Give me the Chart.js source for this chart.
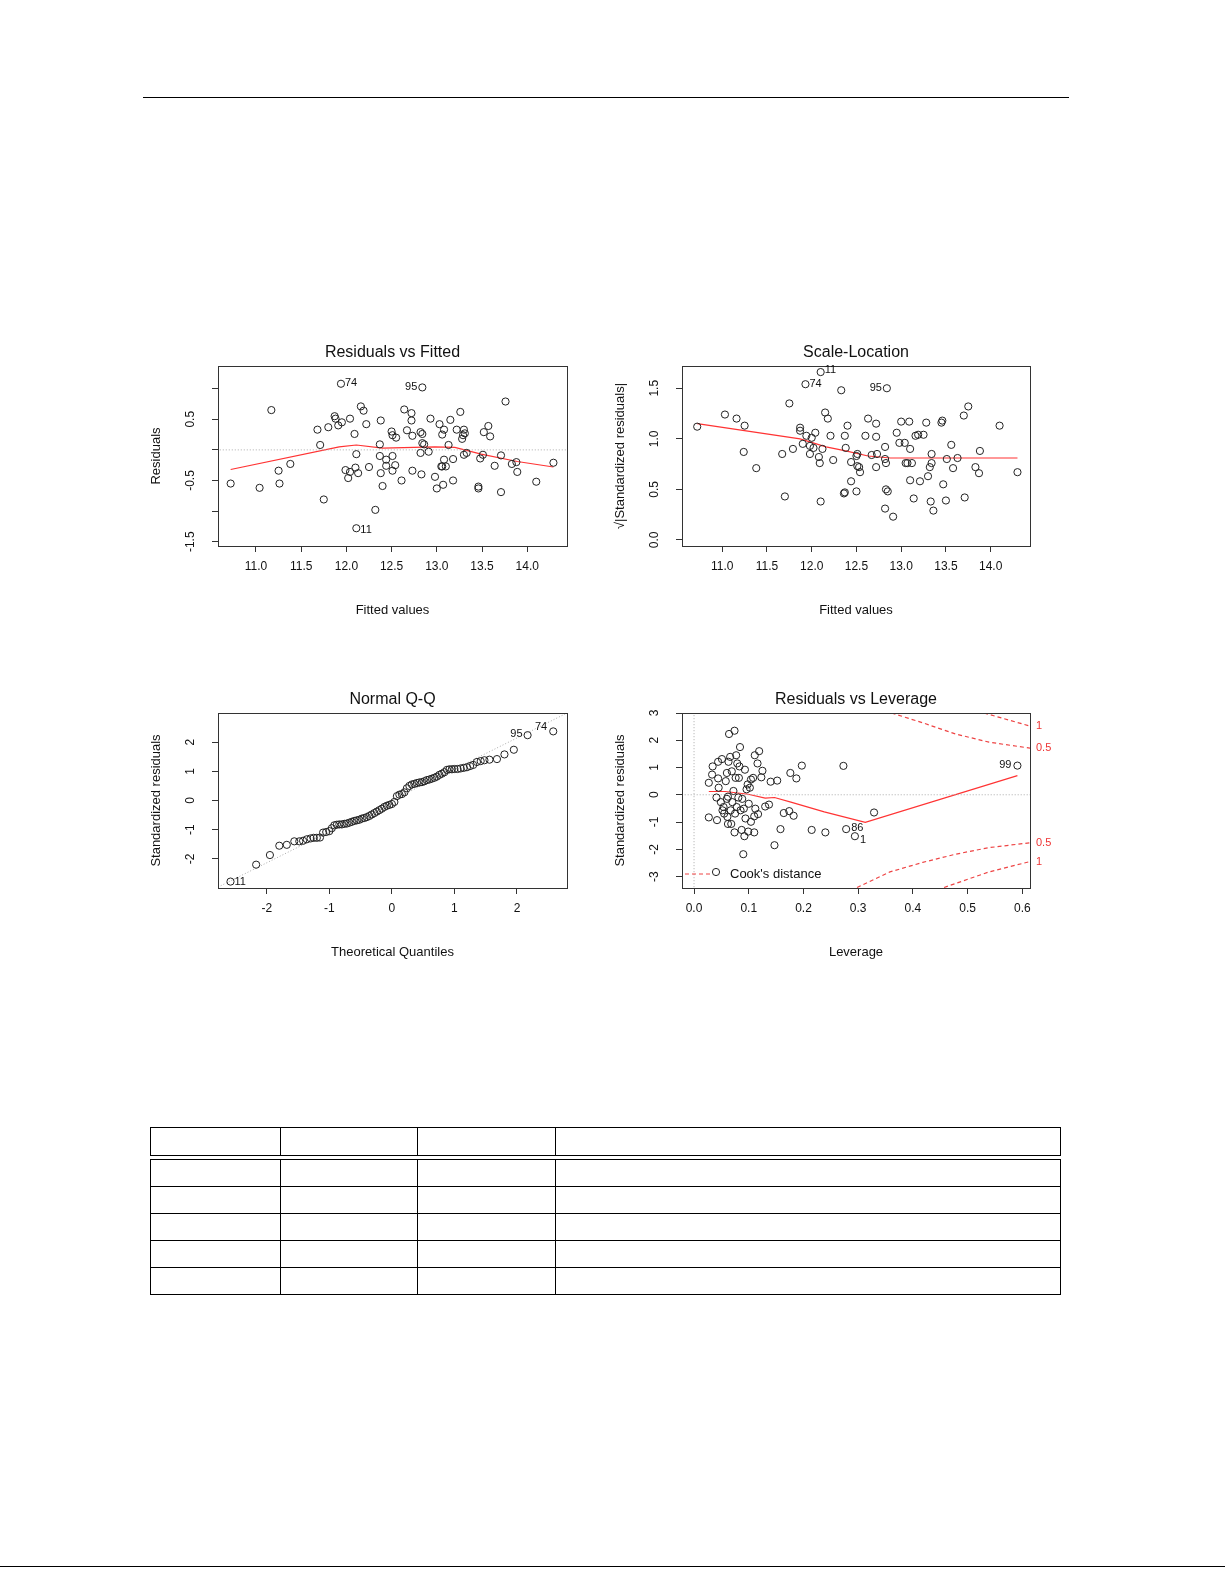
<!DOCTYPE html>
<html style="overflow:hidden"><head><meta charset="utf-8">
<script src="https://cdn.jsdelivr.net/npm/chart.js@4/dist/chart.umd.min.js"></script>
<style>
html,body{overflow:hidden;}
body{margin:0;width:1225px;height:1585px;position:relative;background:#fff;font-family:"Liberation Sans",Arial,sans-serif;}
.cv{position:absolute;}
.rule{position:absolute;background:#000;height:1px;}
table{position:absolute;border-collapse:collapse;left:150px;width:911px;}
td{border:1px solid #000;padding:0;}
</style></head><body>
<div class="rule" style="left:143px;top:97px;width:926px"></div>
<div class="rule" style="left:0;top:1566px;width:1225px"></div>
<div class="cv" style="left:140px;top:330px;width:440px;height:300px"><canvas id="c1"></canvas></div>
<div class="cv" style="left:600px;top:330px;width:470px;height:300px"><canvas id="c2"></canvas></div>
<div class="cv" style="left:140px;top:680px;width:440px;height:300px"><canvas id="c3"></canvas></div>
<div class="cv" style="left:600px;top:680px;width:470px;height:300px"><canvas id="c4"></canvas></div>
<table style="top:1127px"><tr style="height:28px"><td style="width:129px"></td><td style="width:136px"></td><td style="width:137px"></td><td></td></tr></table>
<table style="top:1159px">
<tr style="height:27px"><td style="width:129px"></td><td style="width:136px"></td><td style="width:137px"></td><td></td></tr>
<tr style="height:27px"><td></td><td></td><td></td><td></td></tr>
<tr style="height:27px"><td></td><td></td><td></td><td></td></tr>
<tr style="height:27px"><td></td><td></td><td></td><td></td></tr>
<tr style="height:27px"><td></td><td></td><td></td><td></td></tr>
</table>
<script>
// ---- Residuals vs Fitted ----
const rvfFitted=[10.72,11.04,11.17,11.25,11.26,11.38,11.68,11.71,11.75,11.80,11.87,11.88,11.91,11.95,11.94,11.99,12.02,12.04,12.04,12.09,12.10,12.11,12.11,12.13,12.16,12.19,12.22,12.25,12.32,12.37,12.37,12.38,12.38,12.40,12.44,12.44,12.50,12.51,12.51,12.51,12.54,12.55,12.61,12.64,12.67,12.72,12.72,12.73,12.73,12.82,12.82,12.83,12.84,12.84,12.84,12.86,12.91,12.93,12.98,13.00,13.03,13.05,13.06,13.07,13.06,13.08,13.08,13.10,13.13,13.15,13.18,13.18,13.22,13.26,13.28,13.29,13.30,13.30,13.31,13.33,13.46,13.46,13.48,13.51,13.52,13.57,13.59,13.64,13.71,13.71,13.76,13.83,13.88,13.89,14.10,14.29];
const rvfResid=[-0.55,-0.62,0.65,-0.34,-0.55,-0.23,0.33,0.08,-0.81,0.37,0.55,0.51,0.40,0.45,1.08,-0.33,-0.46,-0.36,0.51,0.26,-0.29,-0.07,-1.28,-0.38,0.71,0.64,0.42,-0.28,-0.98,0.09,-0.10,0.48,-0.38,-0.59,-0.26,-0.16,0.30,-0.10,-0.34,0.24,-0.25,0.20,-0.50,0.66,0.32,0.60,0.48,0.23,-0.34,0.29,-0.05,-0.40,0.26,1.02,0.11,0.09,-0.03,0.51,-0.44,-0.63,0.42,-0.27,-0.27,-0.57,0.25,0.33,-0.16,-0.27,0.08,0.49,-0.50,-0.15,0.33,0.62,0.18,0.24,-0.08,0.33,0.27,-0.05,-0.60,-0.63,-0.14,-0.08,0.29,0.39,0.22,-0.26,-0.09,-0.69,0.79,-0.23,-0.20,-0.36,-0.52,-0.21];
const rvfSmoothX=[10.72,11.92,12.11,12.40,12.98,13.20,13.49,13.89,14.29];
const rvfSmoothY=[-0.32,0.05,0.08,0.03,0.05,0.04,-0.07,-0.19,-0.28];
const rvfTicksY=[-1.5,-1.0,-0.5,0,0.5,1.0];
const rvfTickLabelsY=["-1.5","","-0.5","","0.5",""];
const fitTicksX=[11.0,11.5,12.0,12.5,13.0,13.5,14.0];
// ---- Scale-Location ----
const slFitted=[10.72,11.03,11.16,11.25,11.24,11.38,11.67,11.70,11.75,11.79,11.87,11.87,11.90,11.93,11.94,11.98,11.98,12.00,12.04,12.02,12.08,12.09,12.10,12.10,12.12,12.15,12.18,12.21,12.24,12.33,12.36,12.37,12.37,12.38,12.40,12.44,12.44,12.50,12.51,12.50,12.51,12.53,12.54,12.60,12.63,12.67,12.72,12.72,12.72,12.73,12.82,12.82,12.82,12.83,12.83,12.85,12.84,12.91,12.95,12.98,13.00,13.04,13.05,13.07,13.09,13.10,13.10,13.12,13.14,13.16,13.19,13.21,13.25,13.28,13.30,13.32,13.33,13.34,13.34,13.36,13.45,13.46,13.47,13.50,13.51,13.56,13.58,13.63,13.70,13.71,13.75,13.83,13.87,13.88,14.10,14.30];
const slSqrt=[1.12,1.24,1.20,1.13,0.87,0.71,0.85,0.43,1.35,0.90,1.11,1.08,0.95,1.54,1.03,0.93,0.85,1.01,1.06,0.91,0.82,0.76,0.38,1.66,0.90,1.26,1.20,1.03,0.79,1.48,0.46,0.47,1.03,0.91,1.13,0.77,0.58,0.83,0.85,0.48,0.73,0.72,0.67,1.03,1.20,0.84,1.15,1.02,0.72,0.85,0.92,0.80,0.31,0.76,0.50,0.48,1.50,0.23,1.06,0.96,1.17,0.96,0.76,0.76,1.17,0.90,0.59,0.76,0.41,1.03,1.04,0.58,1.04,1.16,0.63,0.72,0.38,0.85,0.76,0.29,1.16,1.18,0.55,0.39,0.80,0.94,0.71,0.81,1.23,0.42,1.32,0.72,0.66,0.88,1.13,0.67];
const slSmoothX=[10.72,11.87,12.16,12.38,12.63,12.88,13.25,14.30];
const slSmoothY=[1.15,1.00,0.92,0.88,0.83,0.81,0.81,0.81];
const slTicksY=[0.0,0.5,1.0,1.5];
const slTickLabelsY=["0.0","0.5","1.0","1.5"];
// ---- Normal Q-Q ----
const qqTheo=[-2.58,-2.17,-1.95,-1.80,-1.68,-1.56,-1.48,-1.42,-1.36,-1.30,-1.25,-1.20,-1.15,-1.10,-1.05,-1.00,-0.96,-0.92,-0.88,-0.84,-0.80,-0.76,-0.72,-0.68,-0.64,-0.60,-0.56,-0.52,-0.48,-0.44,-0.40,-0.36,-0.32,-0.28,-0.24,-0.20,-0.16,-0.12,-0.08,-0.04,0.00,0.04,0.08,0.12,0.16,0.20,0.24,0.28,0.32,0.36,0.40,0.44,0.48,0.52,0.56,0.60,0.64,0.68,0.72,0.76,0.80,0.84,0.88,0.92,0.96,1.00,1.05,1.10,1.15,1.20,1.25,1.30,1.36,1.42,1.48,1.56,1.68,1.80,1.95,2.17,2.58];
const qqStd=[-2.78,-2.20,-1.87,-1.55,-1.52,-1.40,-1.40,-1.38,-1.33,-1.30,-1.28,-1.28,-1.27,-1.10,-1.08,-1.05,-0.95,-0.85,-0.83,-0.82,-0.82,-0.80,-0.79,-0.76,-0.73,-0.70,-0.68,-0.66,-0.62,-0.60,-0.57,-0.53,-0.48,-0.43,-0.38,-0.33,-0.28,-0.22,-0.18,-0.15,-0.12,-0.05,0.15,0.20,0.22,0.28,0.42,0.50,0.55,0.57,0.60,0.62,0.63,0.66,0.70,0.72,0.75,0.78,0.82,0.88,0.92,0.97,1.05,1.07,1.07,1.08,1.08,1.10,1.12,1.14,1.18,1.22,1.32,1.35,1.38,1.40,1.42,1.58,1.74,2.24,2.37];
const qqLineX=[-2.78,2.80];
const qqLineY=[-2.97,3.0];
const qqTicksX=[-2,-1,0,1,2];
const qqTicksY=[-2,-1,0,1,2];
const qqTickLabelsY=["-2","-1","0","1","2"];
// ---- Residuals vs Leverage ----
const rlLev=[0.027,0.027,0.033,0.034,0.041,0.042,0.044,0.045,0.044,0.049,0.051,0.052,0.054,0.055,0.058,0.060,0.060,0.061,0.062,0.062,0.063,0.064,0.066,0.067,0.068,0.069,0.070,0.072,0.074,0.074,0.075,0.076,0.077,0.078,0.079,0.081,0.082,0.083,0.084,0.085,0.087,0.088,0.090,0.091,0.092,0.093,0.094,0.096,0.098,0.099,0.100,0.102,0.104,0.104,0.108,0.110,0.110,0.111,0.112,0.116,0.117,0.119,0.123,0.125,0.130,0.137,0.140,0.147,0.152,0.158,0.164,0.174,0.176,0.182,0.187,0.197,0.215,0.240,0.273,0.278,0.294,0.329,0.591];
const rlStd=[-0.83,0.44,0.74,1.04,-0.10,-0.93,1.21,0.26,0.60,-0.27,1.31,-0.57,-0.45,-0.69,0.50,-0.15,0.80,-0.81,-1.07,-0.07,1.21,2.23,1.39,-0.57,-1.07,0.86,-0.27,0.14,2.35,-1.38,-0.69,0.62,1.45,-0.45,1.15,-0.10,0.62,1.04,1.75,-0.57,-1.29,-0.15,-2.18,-0.51,-1.52,0.92,-0.87,0.20,0.38,-1.35,-0.33,0.26,0.56,-0.99,0.62,-0.79,-1.38,1.45,-0.51,1.15,-0.71,1.60,0.64,0.88,-0.43,-0.36,0.48,-1.85,0.52,-1.26,-0.67,-0.60,0.80,-0.77,0.60,1.07,-1.29,-1.38,1.06,-1.26,-1.52,-0.65,1.07];
const rlSmoothX=[0.027,0.057,0.099,0.130,0.147,0.177,0.238,0.313,0.591];
const rlSmoothY=[0.12,0.12,0.02,-0.12,-0.10,-0.27,-0.63,-1.01,0.70];
const cookHalfX=[0.361,0.418,0.478,0.539,0.614];
const cookHalfUp=[3.0,2.64,2.23,1.93,1.71];
const cookHalfLowX=[0.298,0.358,0.418,0.478,0.539,0.614];
const cookHalfLow=[-3.4,-2.83,-2.48,-2.18,-1.94,-1.76];
const cookOneX=[0.530,0.614];
const cookOneUp=[3.0,2.52];
const cookOneLowX=[0.457,0.539,0.614];
const cookOneLow=[-3.4,-2.83,-2.45];
const rlTicksX=[0.0,0.1,0.2,0.3,0.4,0.5,0.6];
const rlTicksY=[-3,-2,-1,0,1,2,3];
const rlTickLabelsY=["-3","-2","-1","0","1","2","3"];

const FONT='"Liberation Sans", Arial, sans-serif';
const xy=(xs,ys)=>xs.map((x,i)=>({x,y:ys[i]}));
const pts=(xs,ys)=>({type:'scatter',data:xy(xs,ys),pointRadius:3.6,pointHoverRadius:3.6,borderColor:'#222',backgroundColor:'rgba(0,0,0,0)',borderWidth:1,showLine:false});
const line=(xs,ys,color,dash,w)=>({type:'line',data:xy(xs,ys),borderColor:color,borderWidth:w||1.2,borderDash:dash||[],pointRadius:0,fill:false,tension:0});

const rPlugin={id:'rstyle',afterDraw(chart,args,o){
  const c=chart.ctx,a=chart.chartArea,xs=chart.scales.x,ys=chart.scales.y;
  c.save();
  c.strokeStyle='#333';c.lineWidth=1;c.strokeRect(a.left+0.5,a.top+0.5,a.right-a.left,a.bottom-a.top);
  c.fillStyle='#111';
  c.font='16px '+FONT;c.textAlign='center';c.textBaseline='alphabetic';
  c.fillText(o.title,(a.left+a.right)/2,a.top-9);
  c.font='13px '+FONT;
  c.fillText(o.xTitle,(a.left+a.right)/2,a.bottom+68);
  c.save();c.translate(a.left-62,(a.top+a.bottom)/2);c.rotate(-Math.PI/2);c.textBaseline='middle';c.fillText(o.yTitle,0,0);c.restore();
  c.font='12px '+FONT;
  o.yTicks.forEach((v,i)=>{const t=o.yLabels[i];if(!t)return;const py=ys.getPixelForValue(v);
    c.save();c.translate(a.left-27,py);c.rotate(-Math.PI/2);c.textAlign='center';c.textBaseline='middle';c.fillText(t,0,0);c.restore();});
  c.font='11px '+FONT;c.textBaseline='middle';
  (o.pointLabels||[]).forEach(p=>{const d=chart.data.datasets[p.ds].data[p.i];
    const px=xs.getPixelForValue(d.x),py=ys.getPixelForValue(d.y);
    c.textAlign=p.dx<0?'right':'left';c.fillText(p.text,px+p.dx,py+(p.dy||0));});
  if(o.cook){
    c.fillStyle='#e33';c.textAlign='left';c.font='11px '+FONT;
    o.cook.forEach(k=>{c.fillText(k.t,a.right+6,ys.getPixelForValue(k.y));});
    const ly=a.bottom-14,lx=a.left+3;
    c.strokeStyle='#e44';c.setLineDash([4,3]);c.beginPath();c.moveTo(lx,ly);c.lineTo(lx+28,ly);c.stroke();c.setLineDash([]);
    c.strokeStyle='#222';c.beginPath();c.arc(lx+31,ly-2,3.6,0,Math.PI*2);c.stroke();
    c.fillStyle='#111';c.font='13px '+FONT;c.fillText("Cook's distance",lx+45,ly);
  }
  c.restore();}};

function make(id,datasets,xr,yr,xt,yt,opts,yW,pad){
  return new Chart(document.getElementById(id),{data:{datasets},plugins:[rPlugin],
   options:{responsive:true,maintainAspectRatio:false,animation:false,events:[],
    layout:{padding:pad},
    plugins:{legend:{display:false},tooltip:{enabled:false},rstyle:opts},
    scales:{
     x:{type:'linear',min:xr[0],max:xr[1],afterBuildTicks:s=>{s.ticks=xt.map(v=>({value:v}));},afterFit:s=>{s.height=42;},
        grid:{drawOnChartArea:false,drawTicks:true,tickLength:6,color:'#333'},border:{display:false},
        ticks:{color:'#111',font:{family:FONT,size:12},padding:7,maxRotation:0,autoSkip:false,callback:v=>opts.xFmt(v)}},
     y:{type:'linear',min:yr[0],max:yr[1],afterBuildTicks:s=>{s.ticks=yt.map(v=>({value:v}));},afterFit:s=>{s.width=yW;},
        grid:{drawOnChartArea:false,drawTicks:true,tickLength:6,color:'#333'},border:{display:false},
        ticks:{color:'rgba(0,0,0,0)',font:{size:1}}}}}});
}
const f1=v=>v.toFixed(1), f0=v=>String(v);
make('c1',[pts(rvfFitted,rvfResid),line([10.5,14.5],[0,0],'#aaa',[1,2],1),line(rvfSmoothX,rvfSmoothY,'#f33')],
 [10.58,14.44],[-1.57,1.37],fitTicksX,rvfTicksY,
 {title:'Residuals vs Fitted',xTitle:'Fitted values',yTitle:'Residuals',yTicks:rvfTicksY,yLabels:rvfTickLabelsY,xFmt:f1,
  pointLabels:[{ds:0,i:14,text:'74',dx:4,dy:-1},{ds:0,i:53,text:'95',dx:-5},{ds:0,i:22,text:'11',dx:4,dy:2}]},78,{top:36,right:13,bottom:42,left:0});
make('c2',[pts(slFitted,slSqrt),line(slSmoothX,slSmoothY,'#f33')],
 [10.55,14.44],[-0.06,1.72],fitTicksX,slTicksY,
 {title:'Scale-Location',xTitle:'Fitted values',yTitle:'\u221a|Standardized residuals|',yTicks:slTicksY,yLabels:slTickLabelsY,xFmt:f1,
  pointLabels:[{ds:0,i:23,text:'11',dx:4,dy:-2},{ds:0,i:13,text:'74',dx:4},{ds:0,i:56,text:'95',dx:-5}]},82,{top:36,right:40,bottom:42,left:0});
make('c3',[pts(qqTheo,qqStd),line(qqLineX,qqLineY,'#aaa',[1,2],1)],
 [-2.78,2.8],[-3.0,3.0],qqTicksX,qqTicksY,
 {title:'Normal Q-Q',xTitle:'Theoretical Quantiles',yTitle:'Standardized residuals',yTicks:qqTicksY,yLabels:qqTickLabelsY,xFmt:f0,
  pointLabels:[{ds:0,i:0,text:'11',dx:4},{ds:0,i:79,text:'95',dx:-5,dy:-1},{ds:0,i:80,text:'74',dx:-6,dy:-4}]},78,{top:33,right:13,bottom:50,left:0});
make('c4',[pts(rlLev,rlStd),line([0,0],[-3.5,3.1],'#aaa',[1,2],1),line([-0.05,0.7],[0,0],'#aaa',[1,2],1),
   line(rlSmoothX,rlSmoothY,'#f33'),
   line(cookHalfX,cookHalfUp,'#e44',[4,3]),line(cookHalfLowX,cookHalfLow,'#e44',[4,3]),
   line(cookOneX,cookOneUp,'#e44',[4,3]),line(cookOneLowX,cookOneLow,'#e44',[4,3])],
 [-0.022,0.614],[-3.42,3.0],rlTicksX,rlTicksY,
 {title:'Residuals vs Leverage',xTitle:'Leverage',yTitle:'Standardized residuals',yTicks:rlTicksY,yLabels:rlTickLabelsY,xFmt:f1,
  cook:[{t:'1',y:2.52},{t:'0.5',y:1.71},{t:'0.5',y:-1.76},{t:'1',y:-2.45}],
  pointLabels:[{ds:0,i:82,text:'99',dx:-6,dy:-1},{ds:0,i:79,text:'86',dx:5,dy:-1},{ds:0,i:80,text:'1',dx:5,dy:4}]},82,{top:33,right:40,bottom:50,left:0});
</script></body></html>
